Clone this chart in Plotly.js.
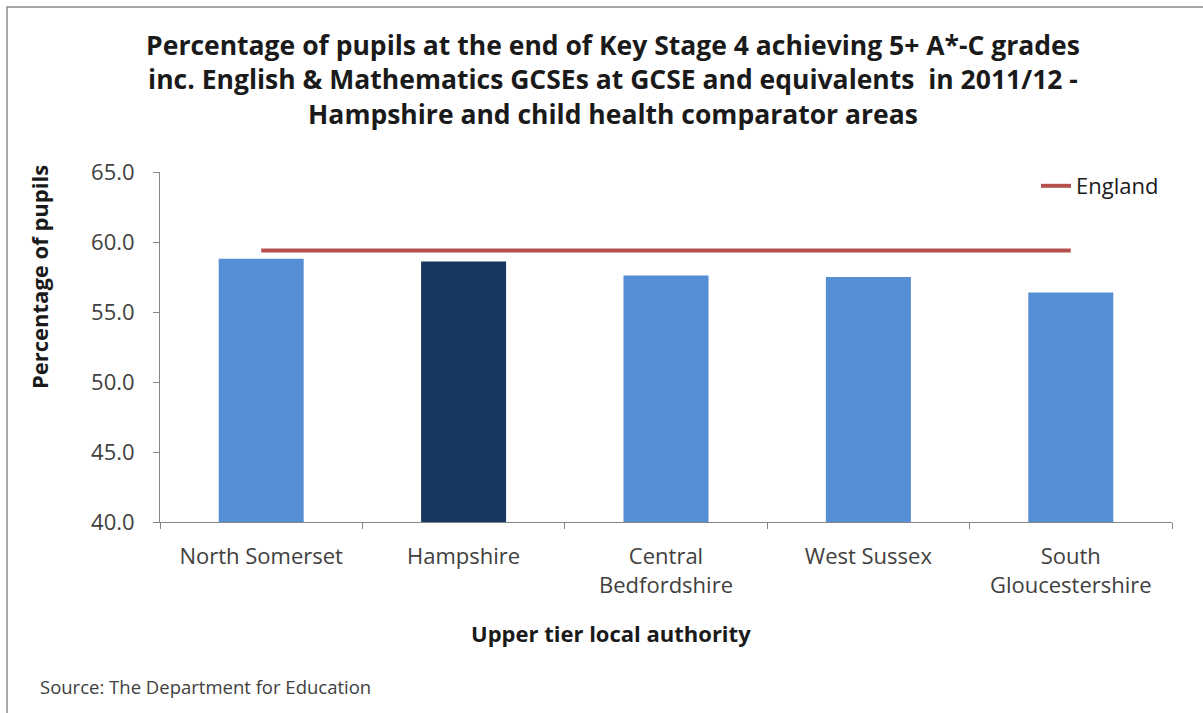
<!DOCTYPE html>
<html>
<head>
<meta charset="utf-8">
<script src="https://cdn.plot.ly/plotly-3.0.1.min.js"></script>
<style>html,body{margin:0;padding:0;background:#fff;}#chart{width:1203px;height:713px;}</style>
</head>
<body>
<div id="chart"></div>
<script>
var categories = ["North Somerset", "Hampshire", "Central<br>Bedfordshire", "West Sussex", "South<br>Gloucestershire"];
var pupilPercent = [58.8, 58.6, 57.6, 57.5, 56.4];
var englandPercent = [59.4, 59.4, 59.4, 59.4, 59.4];
var barColours = ["#558ED5", "#17375E", "#558ED5", "#558ED5", "#558ED5"];
var yTicks = [40, 45, 50, 55, 60, 65];

var FONT = "'Open Sans', Lato, sans-serif";

// plot area in pixels (used only to place free text in paper units)
var PL = 160, PR = 1172, PT = 172, PB = 522;
function px(x){ return (x - PL) / (PR - PL); }
function py(y){ return (PB - y) / (PB - PT); }

var traces = [
  {
    type: "bar",
    x: categories,
    y: pupilPercent,
    marker: {color: barColours},
    width: 0.42,
    showlegend: false,
    hoverinfo: "x+y"
  },
  {
    type: "scatter",
    mode: "lines",
    name: "England",
    x: categories,
    y: englandPercent,
    line: {color: "#B5504E", width: 4}
  }
];

var layout = {
  width: 1203,
  height: 713,
  paper_bgcolor: "#ffffff",
  plot_bgcolor: "#ffffff",
  margin: {l: PL, r: 1203 - PR, t: PT, b: 713 - PB},
  font: {family: FONT, color: "#404040"},
  title: {
    text: "Percentage of pupils at the end of Key Stage 4 achieving 5+ A*-C grades<br>inc. English &amp; Mathematics GCSEs at GCSE and equivalents  in 2011/12 -<br>Hampshire and child health comparator areas",
    font: {family: FONT, size: 26.5, color: "#1a1a1a", weight: "bold"},
    x: 613 / 1203, xref: "container", xanchor: "center",
    y: 1 - 55 / 713, yref: "container", yanchor: "top"
  },
  xaxis: {
    type: "category",
    showline: true, linecolor: "#868686", linewidth: 1,
    ticks: "outside", ticklen: 6, tickcolor: "#868686",
    tickson: "boundaries",
    ticklabelstandoff: 15,
    tickfont: {family: FONT, size: 22, color: "#404040"},
    showgrid: false, zeroline: false
  },
  yaxis: {
    range: [40, 65],
    tickvals: yTicks,
    ticktext: yTicks.map(function(v){return v.toFixed(1);}),
    showline: true, linecolor: "#868686", linewidth: 1,
    ticks: "outside", ticklen: 6, tickcolor: "#868686",
    ticklabelstandoff: 14,
    tickfont: {family: FONT, size: 22, color: "#404040"},
    showgrid: false, zeroline: false
  },
  legend: {
    x: px(1036), xanchor: "left", y: 1.02, yanchor: "top",
    font: {family: FONT, size: 22, color: "#1a1a1a"},
    bgcolor: "rgba(0,0,0,0)"
  },
  annotations: [
    {
      text: "Percentage of pupils",
      xref: "paper", yref: "paper",
      x: px(39), y: py(277), xanchor: "center", yanchor: "middle",
      textangle: -90, showarrow: false,
      font: {family: FONT, size: 22, color: "#1a1a1a", weight: "bold"}
    },
    {
      text: "Upper tier local authority",
      xref: "paper", yref: "paper",
      x: px(611), y: py(633), xanchor: "center", yanchor: "middle",
      showarrow: false,
      font: {family: FONT, size: 22, color: "#1a1a1a", weight: "bold"}
    },
    {
      text: "Source: The Department for Education",
      xref: "paper", yref: "paper",
      x: px(38), y: py(686),
      xanchor: "left", yanchor: "middle",
      showarrow: false,
      font: {family: FONT, size: 18.5, color: "#404040"}
    }
  ],
  shapes: [
    {
      type: "rect", xref: "paper", yref: "paper",
      x0: px(7), x1: px(1230),
      y0: py(740), y1: py(7),
      line: {color: "#8a8a8a", width: 1.5}, fillcolor: "rgba(0,0,0,0)", layer: "below"
    }
  ]
};

Plotly.newPlot("chart", traces, layout, {displayModeBar: false, staticPlot: true});
</script>
</body>
</html>
